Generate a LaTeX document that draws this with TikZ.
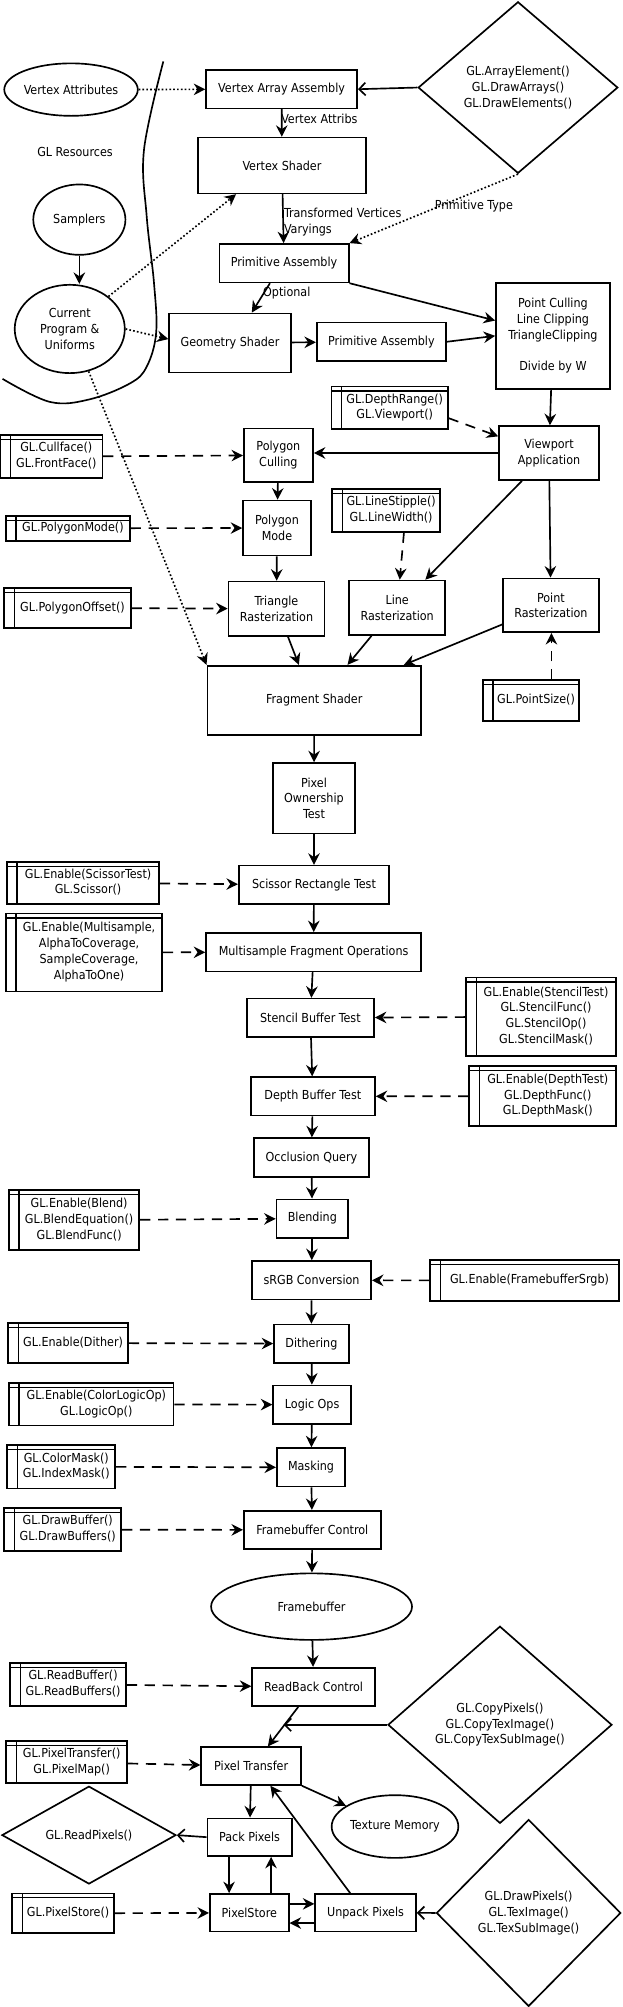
\documentclass[tikz,border=0pt]{standalone}
\usepackage{fontspec}
\setmainfont{DejaVu Sans Condensed}
\usetikzlibrary{arrows.meta,shapes.geometric}

% text of a state box, kept clear of its left strip
\newcommand{\gltext}[1]{\hspace*{8pt}\begin{tabular}{@{}c@{}}#1\end{tabular}}

\begin{document}
\begin{tikzpicture}[
  x=1pt, y=-1pt,
  font=\fontsize{9.7}{12.3}\selectfont,
  line width=1.3pt,
  stage/.style={rectangle, draw, align=center, inner sep=1pt},
  res/.style={ellipse, draw, align=center, inner sep=0pt},
  call/.style={diamond, draw, align=center, inner sep=0pt},
  statebox/.style={rectangle, draw, inner sep=1pt,
    path picture={
      \draw[line width=1pt] ([xshift=8pt]path picture bounding box.north west)
        -- ([xshift=8pt]path picture bounding box.south west);
      \draw[line width=1pt] ([yshift=-3.5pt]path picture bounding box.north west)
        -- ([yshift=-3.5pt]path picture bounding box.north east);}},
  arr/.style={-{Stealth[length=9pt,width=9pt,inset=3pt]}},
  dasharr/.style={arr, dash pattern=on 8pt off 6pt},
  dotarr/.style={arr, dash pattern=on 1.3pt off 1.7pt},
  openarr/.style={-{Straight Barb[length=5pt,width=10pt]}},
  lbl/.style={inner sep=0pt, align=left}
]
\useasboundingbox (0,0) rectangle (486,1568);

% GL resources
\node[res, minimum width=97pt, minimum height=41pt] (vattr) at (55.5, 70) {Vertex Attributes};
\node (glres) at (58.6, 119) {GL Resources};
\node[res, minimum width=72pt, minimum height=55pt] (samplers) at (62, 171.6) {Samplers};
\node[res, minimum width=86pt, minimum height=69pt] (prog) at (54.5, 257) {Current\\Program \&\\Uniforms};
\draw plot[smooth, tension=0.6] coordinates {(127.6,48) (112.5,117) (114.6,169) (120.3,221)
  (122,260) (114.6,286.5) (101.6,299.5) (70,312) (39,314) (2,296)};

\draw[arr] (samplers.south) -- (samplers.south |- prog.north);

% Vertex stages
\node[stage, minimum width=118pt, minimum height=30pt] (vaa) at (220, 69.7) {Vertex Array Assembly};
\node[call, minimum width=156pt, minimum height=134pt] (drawcalls) at (404.7, 68.4) {GL.ArrayElement()\\GL.DrawArrays()\\GL.DrawElements()};
\node[stage, minimum width=131pt, minimum height=43.5pt] (vshader) at (220.3, 129.3) {Vertex Shader};
\node[stage, minimum width=101pt, minimum height=30pt] (prim1) at (221.9, 205.6) {Primitive Assembly};
\node[stage, minimum width=95pt, minimum height=46pt] (geom) at (179.7, 267.9) {Geometry Shader};
\node[stage, minimum width=101pt, minimum height=30pt] (prim2) at (298, 267) {Primitive Assembly};
\node[stage, minimum width=89pt, minimum height=83pt] (clip) at (432, 262.4) {Point Culling\\Line Clipping\\TriangleClipping\\[12.3pt]Divide by W};

\draw[dotarr] (vattr) -- (vaa);
\draw[openarr] (drawcalls.west) -- (vaa.east);
\draw[arr] (vaa) -- node[lbl, pos=0.35, anchor=west, xshift=-1pt] {Vertex Attribs} (vshader);
\draw[arr] (vshader) -- node[lbl, pos=0.575, anchor=west, xshift=0pt] {Transformed Vertices\\Varyings} (prim1);
\draw[dotarr] (drawcalls.south) -- node[pos=0.3, xshift=5pt, yshift=-9pt] {Primitive Type} (prim1.north east);
\draw[dotarr] (prog.40) -- (vshader.-148);
\draw[arr] ([xshift=-11pt]prim1.south) -- node[lbl, pos=0.35, anchor=west, xshift=-1pt] {Optional} ([xshift=17pt]geom.north);
\draw[dotarr] (prog.east) -- ([yshift=3pt]geom.west);
\draw[arr] (geom) -- (prim2);
\draw[arr] (prim1.south east) -- ([yshift=12pt]clip.west);
\draw[arr] (prim2.east) -- (clip.west);

% Viewport and rasterization
\node[statebox, minimum width=91pt, minimum height=33.4pt] (glrange) at (304.4, 318.7) {\gltext{GL.DepthRange()\\GL.Viewport()}};
\node[stage, minimum width=78pt, minimum height=42pt] (viewport) at (428.9, 353.9) {Viewport\\Application};
\node[stage, minimum width=54pt, minimum height=42pt] (cull) at (217.5, 355.7) {Polygon\\Culling};
\node[statebox, minimum width=80pt, minimum height=34pt] (glcull) at (40, 356.7) {\gltext{GL.Cullface()\\GL.FrontFace()}};
\node[stage, minimum width=53pt, minimum height=43pt] (pmode) at (216.4, 412.5) {Polygon\\Mode};
\node[statebox, minimum width=97pt, minimum height=19.5pt] (glpmode) at (53, 412.7) {\gltext{GL.PolygonMode()}};
\node[statebox, minimum width=84.4pt, minimum height=33.6pt] (glstipple) at (301.6, 398.6) {\gltext{GL.LineStipple()\\GL.LineWidth()}};
\node[stage, minimum width=75pt, minimum height=42.5pt] (trirast) at (216, 475.6) {Triangle\\Rasterization};
\node[statebox, minimum width=99pt, minimum height=31.7pt] (gloffset) at (52.6, 475) {\gltext{GL.PolygonOffset()}};
\node[stage, minimum width=75pt, minimum height=42.5pt] (linerast) at (310.3, 474.8) {Line\\Rasterization};
\node[stage, minimum width=75pt, minimum height=42pt] (pointrast) at (430.4, 472.9) {Point\\Rasterization};
\node[statebox, minimum width=75.3pt, minimum height=31.8pt] (glpsize) at (414.8, 547.2) {\gltext{GL.PointSize()}};
\node[stage, minimum width=167pt, minimum height=54pt] (frag) at (245.5, 547.1) {Fragment Shader};

\draw[arr] (clip) -- (viewport);
\draw[dasharr] ([yshift=-8pt]glrange.east) -- ([yshift=13pt]viewport.west);
\draw[arr] (viewport.west) -- (viewport.west -| cull.east);
\draw[dasharr] (glcull) -- (cull);
\draw[arr] (cull) -- (pmode);
\draw[dasharr] (glpmode) -- (pmode);
\draw[arr] (pmode) -- (trirast);
\draw[dasharr] (gloffset) -- (trirast);
\draw[dasharr] ([xshift=14pt]glstipple.south) -- ([xshift=2pt]linerast.north);
\draw[arr] ([xshift=-21pt]viewport.south) -- ([xshift=22pt]linerast.north);
\draw[arr] (viewport) -- (pointrast);
\draw[dasharr] ([xshift=16pt]glpsize.north) -- ([xshift=16pt]glpsize.north |- pointrast.south);
\draw[arr] ([xshift=9pt]trirast.south) -- ([xshift=-12pt]frag.north);
\draw[arr] ([xshift=-20pt]linerast.south) -- ([xshift=26pt]frag.north);
\draw[arr] ([yshift=-15pt]pointrast.west) -- ([xshift=70pt]frag.north);
\draw[dotarr] (prog.-66) -- (frag.north west);

% Per-fragment operations
\node[stage, minimum width=64pt, minimum height=55pt] (owner) at (245.3, 623.7) {Pixel\\Ownership\\Test};
\node[stage, minimum width=117.5pt, minimum height=30pt] (scissor) at (245.3, 691.3) {Scissor Rectangle Test};
\node[statebox, minimum width=119pt, minimum height=33pt] (glscissor) at (64.8, 689.7) {\gltext{GL.Enable(ScissorTest)\\GL.Scissor()}};
\node[stage, minimum width=168pt, minimum height=30pt] (msfrag) at (245, 743.9) {Multisample Fragment Operations};
\node[statebox, minimum width=122pt, minimum height=61pt] (glms) at (65.6, 744.1) {\gltext{GL.Enable(Multisample,\\AlphaToCoverage,\\SampleCoverage,\\AlphaToOne)}};
\node[stage, minimum width=99.4pt, minimum height=30pt] (stencil) at (242.5, 795.2) {Stencil Buffer Test};
\node[statebox, minimum width=117pt, minimum height=61pt] (glstencil) at (422.6, 794.3) {\gltext{GL.Enable(StencilTest)\\GL.StencilFunc()\\GL.StencilOp()\\GL.StencilMask()}};
\node[stage, minimum width=97pt, minimum height=30pt] (depth) at (244.4, 856.6) {Depth Buffer Test};
\node[statebox, minimum width=114.7pt, minimum height=47pt] (gldepth) at (424, 856.3) {\gltext{GL.Enable(DepthTest)\\GL.DepthFunc()\\GL.DepthMask()}};
\node[stage, minimum width=90pt, minimum height=30.5pt] (occl) at (243.3, 904.5) {Occlusion Query};
\node[stage, minimum width=56pt, minimum height=30pt] (blend) at (244, 952) {Blending};
\node[statebox, minimum width=102pt, minimum height=47pt] (glblend) at (57.8, 953.3) {\gltext{GL.Enable(Blend)\\GL.BlendEquation()\\GL.BlendFunc()}};
\node[stage, minimum width=93pt, minimum height=30pt] (srgb) at (243.4, 1000.2) {sRGB Conversion};
\node[statebox, minimum width=147.5pt, minimum height=32pt] (glsrgb) at (409.7, 1000.4) {\gltext{GL.Enable(FramebufferSrgb)}};
\node[stage, minimum width=58.4pt, minimum height=30pt] (dither) at (243.3, 1049.8) {Dithering};
\node[statebox, minimum width=93.7pt, minimum height=31.2pt] (gldither) at (53.1, 1049.2) {\gltext{GL.Enable(Dither)}};
\node[stage, minimum width=61pt, minimum height=30pt] (logic) at (243.9, 1097.4) {Logic Ops};
\node[statebox, minimum width=128.75pt, minimum height=33pt] (gllogic) at (71.25, 1097.2) {\gltext{GL.Enable(ColorLogicOp)\\GL.LogicOp()}};
\node[stage, minimum width=53.4pt, minimum height=30pt] (mask) at (243, 1146.4) {Masking};
\node[statebox, minimum width=84.4pt, minimum height=34pt] (glmask) at (47.8, 1145.9) {\gltext{GL.ColorMask()\\GL.IndexMask()}};
\node[stage, minimum width=107pt, minimum height=30pt] (fbctl) at (244, 1195.3) {Framebuffer Control};
\node[statebox, minimum width=91.6pt, minimum height=33.3pt] (gldraw) at (48.9, 1195) {\gltext{GL.DrawBuffer()\\GL.DrawBuffers()}};
\node[res, minimum width=157pt, minimum height=52pt] (fbuf) at (243.4, 1255.2) {Framebuffer};

\draw[arr] (frag) -- (owner);
\draw[arr] (owner) -- (scissor);
\draw[dasharr] (glscissor) -- (scissor);
\draw[arr] (scissor) -- (msfrag);
\draw[dasharr] (glms) -- (msfrag);
\draw[arr] (msfrag) -- (stencil);
\draw[dasharr] (glstencil) -- (stencil);
\draw[arr] (stencil) -- (depth);
\draw[dasharr] (gldepth) -- (depth);
\draw[arr] (depth) -- (occl);
\draw[arr] (occl) -- (blend);
\draw[dasharr] (glblend) -- (blend);
\draw[arr] (blend) -- (srgb);
\draw[dasharr] (glsrgb) -- (srgb);
\draw[arr] (srgb) -- (dither);
\draw[dasharr] (gldither) -- (dither);
\draw[arr] (dither) -- (logic);
\draw[dasharr] (gllogic) -- (logic);
\draw[arr] (logic) -- (mask);
\draw[dasharr] (glmask) -- (mask);
\draw[arr] (mask) -- (fbctl);
\draw[dasharr] (gldraw) -- (fbctl);
\draw[arr] (fbctl) -- (fbuf);

% Pixel operations
\node[stage, minimum width=96pt, minimum height=30pt] (readback) at (245, 1317.9) {ReadBack Control};
\node[statebox, minimum width=90.6pt, minimum height=33.8pt] (glread) at (53.1, 1315.9) {\gltext{GL.ReadBuffer()\\GL.ReadBuffers()}};
\node[call, minimum width=175pt, minimum height=154pt] (copypix) at (390.6, 1347.5) {GL.CopyPixels()\\GL.CopyTexImage()\\GL.CopyTexSubImage()};
\node[stage, minimum width=78pt, minimum height=29.4pt] (ptrans) at (196.25, 1379.8) {Pixel Transfer};
\node[statebox, minimum width=94.7pt, minimum height=33pt] (glptrans) at (52, 1376.7) {\gltext{GL.PixelTransfer()\\GL.PixelMap()}};
\node[res, minimum width=98pt, minimum height=49pt] (texmem) at (308.6, 1427) {Texture Memory};
\node[stage, minimum width=66pt, minimum height=29.4pt] (pack) at (195, 1435.3) {Pack Pixels};
\node[call, minimum width=136pt, minimum height=64pt] (readpix) at (69.5, 1433.7) {GL.ReadPixels()};
\node[stage, minimum width=61.6pt, minimum height=29.4pt] (pstore) at (194.8, 1494.4) {PixelStore};
\node[statebox, minimum width=79.7pt, minimum height=31.2pt] (glpstore) at (49.2, 1494.8) {\gltext{GL.PixelStore()}};
\node[stage, minimum width=78.75pt, minimum height=29.4pt] (unpack) at (285.6, 1494.4) {Unpack Pixels};
\node[call, minimum width=144pt, minimum height=146pt] (drawpix) at (413, 1494.5) {GL.DrawPixels()\\GL.TexImage()\\GL.TexSubImage()};

\draw[arr] (fbuf) -- (readback);
\draw[dasharr] (glread) -- (readback);
\draw[arr] ([xshift=-12pt]readback.south) -- coordinate[pos=0.48] (rbmid) ([xshift=13pt]ptrans.north);
\draw[openarr] (copypix.west) -- (copypix.west -| rbmid);
\draw[dasharr] (glptrans) -- (ptrans);
\draw[arr] (ptrans.south east) -- (texmem.157);
\draw[arr] (ptrans) -- (pack);
\draw[openarr] (pack.west) -- (readpix.east);
\draw[arr] ([xshift=-16pt]pack.south) -- ([xshift=-16pt]pack.south |- pstore.north);
\draw[arr] ([xshift=17pt]pstore.north) -- ([xshift=17pt]pstore.north |- pack.south);
\draw[dasharr] (glpstore) -- (pstore);
\draw[arr] ([yshift=7pt]pstore.east) -- ([yshift=7pt]pstore.east -| unpack.west);
\draw[arr] ([yshift=-8pt]unpack.west) -- ([yshift=-8pt]unpack.west -| pstore.east);
\draw[arr] ([xshift=-12pt]unpack.north) -- ([xshift=15pt]ptrans.south);
\draw[openarr] (drawpix.west) -- (unpack.east);

\end{tikzpicture}
\end{document}
